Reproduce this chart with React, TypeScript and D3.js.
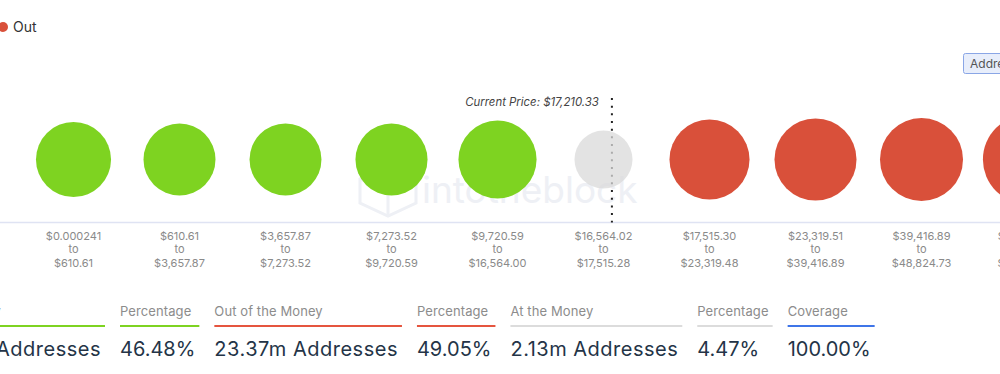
import { useEffect, useRef } from "react";
import * as d3 from "d3";

// price buckets (from / to) and address counts in millions
const rangeFrom = ["$0.000241", "$610.61", "$3,657.87", "$7,273.52", "$9,720.59", "$16,564.02", "$17,515.30", "$23,319.51", "$39,416.89", "$48,824.73"];
const rangeTo = ["$610.61", "$3,657.87", "$7,273.52", "$9,720.59", "$16,564.00", "$17,515.28", "$23,319.48", "$39,416.89", "$48,824.73", "$69,044.77"];
const addresses = [4.61, 4.16, 4.15, 4.17, 5.05, 2.13, 5.33, 5.62, 5.76, 6.66];
const status = ["in", "in", "in", "in", "in", "at", "out", "out", "out", "out"];

const currentPrice = 17210.33;
const atLow = 16564.02;
const atHigh = 17515.28;

const summaryLabels = ["In the Money", "Percentage", "Out of the Money", "Percentage", "At the Money", "Percentage", "Coverage"];
const summaryValues = ["22.14m Addresses", "46.48%", "23.37m Addresses", "49.05%", "2.13m Addresses", "4.47%", "100.00%"];
const summaryKeys = ["in", "in", "out", "out", "at", "at", "cov"];

const colors: Record<string, string> = { in: "#7ed321", out: "#d9503a", at: "#e3e3e3", cov: "#3f75e8" };
const lineColors: Record<string, string> = { in: "#7ed321", out: "#e5553f", at: "#dcdcdc", cov: "#3f75e8" };

const W = 1000;
const H = 374;
const font = "Inter, 'Noto Sans', sans-serif";

export default function App() {
  const svgRef = useRef<SVGSVGElement>(null);

  useEffect(() => {
    document.body.style.margin = "0";
    const svg = d3.select(svgRef.current);
    svg.selectAll("*").remove();

    const x = d3.scaleBand<number>()
      .domain(d3.range(addresses.length))
      .range([20.5, 1080.5]);

    const r = d3.scaleLinear()
      .domain(d3.extent(addresses) as [number, number])
      .range([29, 44.6]);

    const cy = 159.5;
    const baseY = 222.5;

    // watermark
    const wm = svg.append("g").attr("fill", "none").attr("stroke", "#eef0f5").attr("stroke-width", 3);
    wm.append("path").attr("d", "M388,166 L416,179 L416,203 L388,216 L360,203 L360,179 Z");
    wm.append("path").attr("d", "M360,179 L388,192 L416,179 M388,192 L388,216");
    svg.append("text")
      .attr("x", 422).attr("y", 203)
      .attr("font-family", font).attr("font-size", 37)
      .attr("fill", "#eef0f5")
      .text("intotheblock");

    // baseline
    svg.append("line")
      .attr("x1", 0).attr("x2", W)
      .attr("y1", baseY).attr("y2", baseY)
      .attr("stroke", "#dfe3f3").attr("stroke-width", 1.5);

    // current price line
    const atIdx = status.indexOf("at");
    const atCx = x(atIdx)! + x.bandwidth() / 2;
    const atR = r(addresses[atIdx]);
    const px = d3.scaleLinear().domain([atLow, atHigh]).range([atCx - atR, atCx + atR])(currentPrice) - 2;
    svg.append("line")
      .attr("x1", px).attr("x2", px)
      .attr("y1", 98).attr("y2", baseY)
      .attr("stroke", "#222").attr("stroke-width", 2)
      .attr("stroke-dasharray", "2 5.67");
    svg.append("text")
      .attr("x", px - 13).attr("y", 106)
      .attr("text-anchor", "end")
      .attr("font-family", font).attr("font-size", 11.4).attr("font-style", "italic")
      .attr("fill", "#444")
      .text(`Current Price: ${d3.format("$,.2f")(currentPrice)}`);

    // bubbles
    svg.append("g").selectAll("circle")
      .data(addresses)
      .join("circle")
      .attr("cx", (d, i) => x(i)! + x.bandwidth() / 2)
      .attr("cy", cy)
      .attr("r", d => r(d))
      .attr("fill", (d, i) => status[i] === "at" ? "#d9d9d9" : colors[status[i]])
      .attr("fill-opacity", (d, i) => status[i] === "at" ? 0.75 : 1);

    // range labels
    const lbl = svg.append("g")
      .attr("font-family", font).attr("font-size", 11)
      .attr("fill", "#8a8a8a").attr("text-anchor", "middle");
    addresses.forEach((d, i) => {
      const cx = x(i)! + x.bandwidth() / 2;
      const t = lbl.append("text").attr("x", cx);
      t.append("tspan").attr("x", cx).attr("y", 239.5).text(rangeFrom[i]);
      t.append("tspan").attr("x", cx).attr("y", 253).text("to");
      t.append("tspan").attr("x", cx).attr("y", 266.5).text(rangeTo[i]);
    });

    // legend
    svg.append("circle").attr("cx", 3).attr("cy", 27).attr("r", 5).attr("fill", colors.out);
    svg.append("text")
      .attr("x", 13).attr("y", 32)
      .attr("font-family", font).attr("font-size", 14)
      .attr("fill", "#333").text("Out");

    // button
    svg.append("rect")
      .attr("x", 963.5).attr("y", 53.5).attr("width", 50).attr("height", 20).attr("rx", 2)
      .attr("fill", "#e8eefb").attr("stroke", "#8aa6e6");
    svg.append("text")
      .attr("x", 970).attr("y", 67.5)
      .attr("font-family", font).attr("font-size", 12)
      .attr("fill", "#555").text("Addresses");

    // summary row
    const sum = svg.append("g");
    const cols = summaryLabels.map((label, i) => {
      const g = sum.append("g");
      const lt = g.append("text")
        .attr("y", 316).attr("font-family", font).attr("font-size", 13)
        .attr("letter-spacing", 0.1)
        .attr("fill", "#8c8c8c").text(label);
      const vt = g.append("text")
        .attr("y", 356).attr("font-family", font).attr("font-size", 20)
        .attr("letter-spacing", summaryValues[i].includes("Addresses") ? 0.5 : 0)
        .attr("fill", "#243447").text(summaryValues[i]);
      const w = Math.max((lt.node() as SVGTextElement).getComputedTextLength(), (vt.node() as SVGTextElement).getComputedTextLength()) + 4;
      g.append("rect")
        .attr("y", 325).attr("height", 2).attr("width", w)
        .attr("fill", lineColors[summaryKeys[i]]);
      return { g, w };
    });
    let cx = 105 - cols[0].w;
    cols.forEach(c => {
      c.g.attr("transform", `translate(${cx},0)`);
      cx += c.w + 15;
    });
  }, []);

  return <svg ref={svgRef} width={W} height={H} style={{ display: "block", background: "#fff" }} />;
}
